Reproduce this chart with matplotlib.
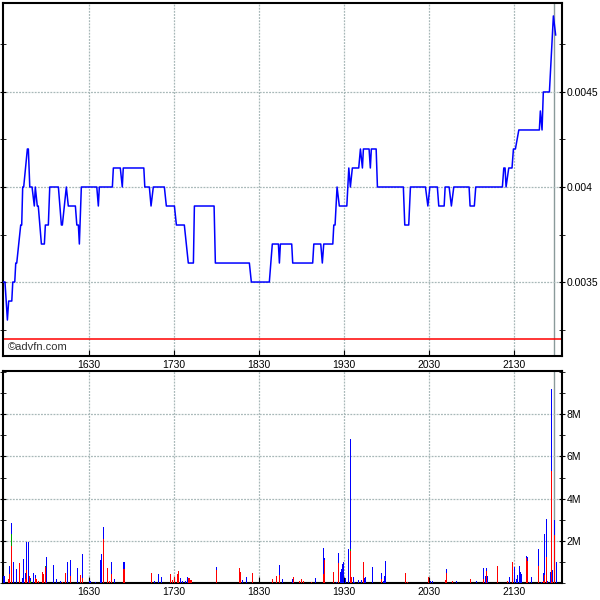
import matplotlib
matplotlib.use('Agg')
import matplotlib.pyplot as plt
from matplotlib.ticker import FixedLocator, MultipleLocator, FuncFormatter

# price line vertices (minutes after midnight, price)
price_t = [929.3, 930.7, 932.4, 933.3, 935.5, 936.2, 937.6, 938.3, 939.0, 940.4,
           941.8, 942.5, 943.2, 943.9, 946.5, 947.2, 948.2, 949.8, 951.4, 952.1,
           953.5, 954.2, 956.4, 958.5, 959.2, 961.3, 962.3, 968.4, 970.5, 971.2,
           972.6, 974.0, 975.4, 980.4, 981.4, 982.5, 983.2, 984.6, 995.5, 996.6,
           997.3, 1006.5, 1007.2, 1012.1, 1013.5, 1014.2, 1028.7, 1029.4, 1032.6, 1033.8,
           1035.4, 1043.2, 1044.6, 1050.3, 1051.7, 1057.3, 1058.7, 1060.1, 1063.7, 1064.4,
           1078.3, 1079.2, 1103.2, 1104.6, 1117.3, 1119.4, 1123.7, 1124.4, 1125.1, 1133.1,
           1133.8, 1147.9, 1148.7, 1153.6, 1154.7, 1155.7, 1162.1, 1162.8, 1163.7, 1165.1,
           1166.7, 1172.0, 1173.4, 1174.5, 1175.9, 1180.4, 1181.6, 1183.0, 1183.7, 1187.7,
           1188.6, 1189.3, 1192.7, 1193.6, 1211.9, 1212.9, 1215.7, 1216.9, 1227.5, 1229.2,
           1230.6, 1235.9, 1236.9, 1240.7, 1241.4, 1244.2, 1245.8, 1247.5, 1258.3, 1259.0,
           1262.0, 1263.0, 1281.8, 1282.8, 1283.7, 1284.4, 1286.3, 1288.6, 1289.6, 1291.0,
           1293.4, 1307.9, 1308.6, 1309.8, 1310.7, 1315.0, 1317.8, 1319.4]
price_v = [0.0035, 0.0035, 0.0033, 0.0034, 0.0034, 0.0035, 0.0035, 0.0036, 0.0036, 0.0037,
           0.0038, 0.0038, 0.0040, 0.0040, 0.0042, 0.0042, 0.0040, 0.0040, 0.0039, 0.0040,
           0.0039, 0.0039, 0.0037, 0.0037, 0.0038, 0.0038, 0.0040, 0.0040, 0.0038, 0.0038,
           0.0039, 0.0040, 0.0039, 0.0039, 0.0038, 0.0038, 0.0037, 0.0040, 0.0040, 0.0039,
           0.0040, 0.0040, 0.0041, 0.0041, 0.0040, 0.0041, 0.0041, 0.0040, 0.0040, 0.0039,
           0.0040, 0.0040, 0.0039, 0.0039, 0.0038, 0.0038, 0.0037, 0.0036, 0.0036, 0.0039,
           0.0039, 0.0036, 0.0036, 0.0035, 0.0035, 0.0037, 0.0037, 0.0036, 0.0037, 0.0037,
           0.0036, 0.0036, 0.0037, 0.0037, 0.0036, 0.0037, 0.0037, 0.0038, 0.0038, 0.0040,
           0.0039, 0.0039, 0.0041, 0.0040, 0.0041, 0.0041, 0.0042, 0.0041, 0.0042, 0.0042,
           0.0041, 0.0042, 0.0042, 0.0040, 0.0040, 0.0038, 0.0038, 0.0040, 0.0040, 0.0039,
           0.0040, 0.0040, 0.0039, 0.0039, 0.0040, 0.0040, 0.0039, 0.0040, 0.0040, 0.0039,
           0.0039, 0.0040, 0.0040, 0.0041, 0.0041, 0.0040, 0.0041, 0.0041, 0.0042, 0.0042,
           0.0043, 0.0043, 0.0044, 0.0043, 0.0045, 0.0045, 0.0049, 0.0048]
prev_close = 0.0032
marker_time = 1318.3

# volume bars (minutes, millions): red / green / blue stacked
vol_t = [930.0, 933.1, 933.8, 935.4, 936.6, 938.7, 940.8, 943.2, 943.7, 945.3,
         945.8, 947.2, 947.9, 948.6, 950.7, 952.1, 953.1, 954.5, 957.3, 958.0,
         959.4, 959.9, 964.8, 967.2, 969.6, 971.4, 973.3, 975.0, 976.8, 982.0,
         983.9, 985.3, 990.7, 994.3, 997.8, 998.3, 999.0, 1000.1, 1003.0, 1004.4,
         1005.6, 1007.9, 1014.7, 1034.3, 1036.1, 1039.2, 1041.3, 1047.4, 1048.8, 1050.3,
         1052.6, 1053.3, 1054.3, 1056.1, 1058.3, 1059.7, 1060.6, 1062.0, 1080.1, 1096.1,
         1096.8, 1098.5, 1101.3, 1105.3, 1119.7, 1122.5, 1124.4, 1126.7, 1133.8, 1134.5,
         1138.7, 1140.2, 1141.4, 1147.2, 1149.6, 1155.5, 1156.2, 1162.5, 1164.9, 1166.1,
         1167.5, 1168.2, 1169.1, 1169.8, 1170.8, 1173.1, 1174.5, 1175.2, 1176.6, 1177.4,
         1180.4, 1182.5, 1183.7, 1184.4, 1185.4, 1190.1, 1196.4, 1197.8, 1198.8, 1199.5,
         1213.6, 1214.8, 1229.8, 1230.8, 1232.4, 1241.8, 1242.5, 1246.8, 1249.1, 1259.2,
         1263.7, 1268.4, 1269.8, 1270.5, 1271.2, 1278.3, 1285.4, 1286.8, 1288.9, 1290.3,
         1292.0, 1292.7, 1293.8, 1294.5, 1295.2, 1298.8, 1299.5, 1300.9, 1302.3, 1307.2,
         1309.4, 1310.8, 1311.5, 1312.9, 1313.8, 1315.7, 1316.4, 1317.4, 1318.5, 1319.7]
vol_red = [0, 0.17, 0.41, 1.76, 0, 0, 0.95, 0, 0, 0.2,
           0.6, 0, 0.33, 0, 0, 0.22, 0.17, 0.1, 0.52, 0.41,
           0.76, 0, 0, 0, 0, 0.06, 0.48, 0, 0.32, 0,
           0.38, 0.25, 0, 0, 0.05, 0, 0, 2.11, 0.71, 0.1,
           0.44, 0, 0.65, 0.48, 0, 0, 0, 0.43, 0.16, 0.29,
           0.41, 0.57, 0, 0, 0, 0, 0.22, 0.13, 0.6, 0.71,
           0.52, 0, 0, 0.48, 0.19, 0.32, 0.38, 0, 0, 0.29,
           0.1, 0.17, 0.1, 0.06, 0, 0.41, 1.1, 0.52, 0, 0.95,
           0, 0, 0, 0, 0, 0, 1.52, 0.29, 0, 0,
           0, 0, 1.0, 0, 0, 0, 0.19, 0, 0, 0,
           0.48, 0.05, 0.29, 0, 0, 0.14, 0.48, 0.1, 0, 0.19,
           0, 0.17, 0, 0.57, 0, 0.81, 0.1, 0, 1.0, 0,
           0, 0, 0, 0, 0, 1.17, 1.05, 0, 0, 0.81,
           0, 0.1, 0.4, 1.24, 0, 0, 5.29, 0.03, 2.3, 0]
vol_green = [0, 0, 0, 0.56, 0, 0, 0, 0, 0, 0,
             0, 0, 0, 0.1, 0, 0, 0, 0, 0, 0,
             0.05, 0, 0, 0, 0, 0, 0, 0, 0, 0,
             0, 0, 0, 0, 0.05, 0, 0, 0, 0, 0,
             0, 0, 0, 0, 0, 0, 0, 0, 0, 0,
             0, 0, 0, 0, 0, 0, 0, 0, 0, 0,
             0, 0, 0, 0, 0, 0, 0, 0, 0, 0,
             0, 0, 0, 0, 0, 0, 0, 0, 0, 0,
             0, 0, 0, 0, 0, 0, 0.08, 0, 0, 0,
             0, 0, 0, 0, 0, 0, 0, 0, 0, 0,
             0, 0, 0, 0, 0, 0, 0, 0, 0, 0,
             0, 0, 0, 0, 0, 0, 0, 0, 0, 0,
             0, 0, 0, 0, 0, 0, 0, 0, 0, 0,
             0, 0, 0, 0, 0, 0, 0, 0, 0, 0]
vol_blue = [0.33, 0, 0.40, 0.52, 1.0, 0.65, 0, 0.25, 1.14, 0.26,
            1.35, 1.95, 0, 0.12, 0.48, 0.16, 0, 0, 0, 0,
            0, 1.24, 0.86, 0.17, 0.1, 0, 0, 1.0, 0.78, 0.71,
            0, 1.13, 0.1, 0.06, 0.04, 1.1, 1.38, 0.56, 0, 0,
            0.56, 0.19, 0.35, 0, 0.1, 0.43, 0.29, 0, 0, 0,
            0, 0, 0.24, 0.1, 0.08, 0.29, 0, 0, 0.16, 0,
            0, 0.14, 0.29, 0, 0, 0, 0.48, 0.19, 0.17, 0,
            0, 0, 0, 0, 0.24, 1.26, 0.09, 0, 0.06, 0.48,
            0.52, 0.67, 0.9, 1.0, 0.24, 1.62, 5.21, 0, 0.29, 0.05,
            0.14, 0.14, 0, 0.24, 0.29, 0.76, 0.29, 0.1, 0.33, 1.05,
            0, 0, 0, 0.1, 0.1, 0, 0.19, 0, 0.1, 0,
            0.1, 0.54, 0.33, 0.14, 0.33, 0, 0, 0.29, 0, 0.76,
            0.19, 0.38, 0.81, 0.52, 0.43, 0.12, 0.19, 0.06, 0.29, 0.81,
            0.03, 0.38, 1.93, 1.81, 0.1, 0.52, 3.9, 0.59, 0.7, 1.0]

hour_ticks = [990, 1050, 1110, 1170, 1230, 1290]
x_range = (929.3, 1323.9)

plt.rcParams['font.family'] = ['Liberation Sans', 'DejaVu Sans']
grid_kw = dict(color='#a8b8b8', linestyle=(0, (1.5, 1)), linewidth=0.9)

fig = plt.figure(figsize=(6, 6), dpi=100)
ax1 = fig.add_axes([0.005, 0.4067, 0.9317, 0.5883])
ax2 = fig.add_axes([0.005, 0.0283, 0.9317, 0.3533])


def hhmm(v, pos=None):
    v = int(round(v))
    return f'{v // 60}{v % 60:02d}'


for ax in (ax1, ax2):
    ax.set_xlim(*x_range)
    ax.xaxis.set_major_locator(FixedLocator(hour_ticks))
    ax.xaxis.set_major_formatter(FuncFormatter(hhmm))
    ax.yaxis.tick_right()
    ax.yaxis.set_ticks_position('both')
    ax.tick_params(axis='y', which='both', direction='inout', labelsize=7.5,
                   labelleft=False, labelright=True, pad=1)
    ax.tick_params(axis='y', which='major', length=5)
    ax.tick_params(axis='y', which='minor', length=4)
    ax.tick_params(axis='x', direction='in', length=4, labelsize=7.5, pad=3)
    ax.grid(True, which='major', **grid_kw)
    ax.axvline(marker_time, color='#8a9a9a', linewidth=1.0, zorder=1)
    for s in ax.spines.values():
        s.set_linewidth(1.5)

# price panel
ax1.plot(price_t, price_v, color='#0000ff', linewidth=1.1, zorder=3)
ax1.axhline(prev_close, color='#ff0000', linewidth=1.1, zorder=2)
ax1.set_ylim(0.003111, 0.004968)
ax1.yaxis.set_major_locator(FixedLocator([0.0035, 0.004, 0.0045]))
ax1.yaxis.set_major_formatter(FuncFormatter(lambda v, p: f'{v:g}'))
ax1.yaxis.set_minor_locator(MultipleLocator(0.00025))
ax1.text(0.008, 0.012, '\u00a9advfn.com', transform=ax1.transAxes,
         fontsize=8, color='#333333', va='bottom', ha='left')

# volume panel
bottom_g = vol_red
bottom_b = [r + g for r, g in zip(vol_red, vol_green)]
ax2.bar(vol_t, vol_red, width=0.75, color='#ff0000', linewidth=0, zorder=3)
ax2.bar(vol_t, vol_green, width=0.75, bottom=bottom_g, color='#00a000',
        linewidth=0, zorder=3)
ax2.bar(vol_t, vol_blue, width=0.75, bottom=bottom_b, color='#0000ff',
        linewidth=0, zorder=3)
ax2.set_ylim(0, 10.05)
ax2.yaxis.set_major_locator(FixedLocator([2, 4, 6, 8]))
ax2.yaxis.set_major_formatter(FuncFormatter(lambda v, p: f'{v:g}M'))
ax2.yaxis.set_minor_locator(MultipleLocator(1))

fig.savefig('out.png', dpi=100)
